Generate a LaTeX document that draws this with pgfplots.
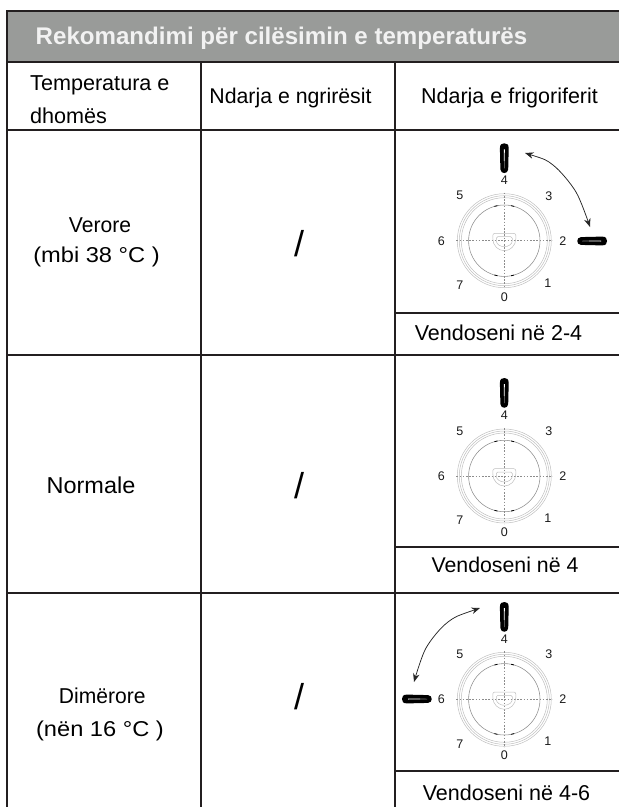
\documentclass[border=0pt]{standalone}
\usepackage{pgfplots}
\usepackage{graphicx}
\usepackage{fontspec}
\pgfplotsset{compat=1.18}
\setmainfont{Liberation Sans}
\usetikzlibrary{arrows.meta}
\definecolor{rule}{HTML}{231F20}
\definecolor{band}{HTML}{999B99}
\definecolor{ring}{HTML}{BEBEBE}
\newcommand{\fs}[1]{\fontsize{#1}{#1}\selectfont}
\newcommand{\knob}[3]{%
 \begin{scope}[shift={(axis cs:#1,#2)},rotate=#3]
  \fill[black] (-4.4pt,-5pt) .. controls (-4.4pt,-1pt) and (-2.5pt,0pt) .. (0pt,0pt) .. controls (2.5pt,0pt) and (4.4pt,-1pt) .. (4.4pt,-5pt) -- (3.9pt,-26pt) .. controls (3.7pt,-31pt) and (-3.7pt,-31pt) .. (-3.9pt,-26pt) -- cycle;
  \fill[white] (-.5pt,-6pt) -- (.5pt,-6pt) -- (.3pt,-18pt) -- (-.3pt,-18pt) -- cycle;
  \fill[black!50] (-.3pt,-18pt) -- (.3pt,-18pt) -- (.25pt,-25pt) -- (-.25pt,-25pt) -- cycle;
 \end{scope}}
\newcommand{\dial}[2]{%
 \begin{scope}[shift={(axis cs:#1,#2)}]
  \draw[ring,line width=.5pt] (0,0) circle[radius=47pt];
  \draw[ring,line width=.5pt] (0,0) circle[radius=45pt];
  \draw[ring,line width=.5pt] (0,0) circle[radius=43pt];
  \draw[black!45,line width=.55pt] (0,0) circle[radius=35.7pt];
  \draw[black,line width=.8pt] (106:35.7pt) arc[start angle=106,end angle=101,radius=35.7pt];
  \draw[black,line width=.8pt] (79:35.7pt) arc[start angle=79,end angle=74,radius=35.7pt];
  \draw[black,line width=.8pt] (254:35.7pt) arc[start angle=254,end angle=259,radius=35.7pt];
  \draw[black,line width=.8pt] (281:35.7pt) arc[start angle=281,end angle=286,radius=35.7pt];
  \draw[black!45,dash pattern=on 1.6pt off 1.6pt,line width=.5pt] (-48pt,0) -- (48pt,0);
  \draw[black!45,dash pattern=on 1.6pt off 1.6pt,line width=.5pt] (0,48pt) -- (0,-48pt);
  \draw[ring,line width=.5pt,rounded corners=2pt] (-11.5pt,2pt) -- (-11.5pt,7.3pt) -- (11.5pt,7.3pt) -- (11.5pt,2pt);
  \draw[ring,line width=.5pt] (11.5pt,2pt) .. controls (11.5pt,-5pt) and (6pt,-10pt) .. (0,-10pt) .. controls (-6pt,-10pt) and (-11.5pt,-5pt) .. (-11.5pt,2pt);
  \draw[ring,line width=.5pt,rounded corners=1.5pt] (-8pt,0pt) -- (-8pt,4pt) -- (8pt,4pt) -- (8pt,0pt);
  \draw[ring,line width=.5pt] (8pt,0pt) .. controls (8pt,-3.5pt) and (4pt,-6pt) .. (0,-6pt) .. controls (-4pt,-6pt) and (-8pt,-3.5pt) .. (-8pt,0pt);
  \node[font=\fs{12.5},text=black!90,inner sep=0pt] at (0,60.5pt) {4};
  \node[font=\fs{12.5},text=black!90,inner sep=0pt] at (-44.5pt,45pt) {5};
  \node[font=\fs{12.5},text=black!90,inner sep=0pt] at (44.5pt,45pt) {3};
  \node[font=\fs{12.5},text=black!90,inner sep=0pt] at (-63pt,0) {6};
  \node[font=\fs{12.5},text=black!90,inner sep=0pt] at (58.5pt,0) {2};
  \node[font=\fs{12.5},text=black!90,inner sep=0pt] at (-44.5pt,-44.5pt) {7};
  \node[font=\fs{12.5},text=black!90,inner sep=0pt] at (43.5pt,-42pt) {1};
  \node[font=\fs{12.5},text=black!90,inner sep=0pt] at (0,-56pt) {0};
 \end{scope}}
\begin{document}
\begin{tikzpicture}
\path[use as bounding box] (0,0) rectangle (619pt,807pt);
\begin{axis}[
  scale only axis, width=619pt, height=807pt,
  xmin=0, xmax=619, ymin=0, ymax=807, y dir=reverse,
  hide axis, clip=false,
]
% header band
\addplot[draw=none,fill=band] coordinates {(7,11) (619,11) (619,61) (7,61)} -- cycle;
% table rules
\addplot[rule,line width=2pt] coordinates {(6,11) (619,11)};
\addplot[rule,line width=2pt] coordinates {(6,61.5) (619,61.5)};
\addplot[rule,line width=2pt] coordinates {(6,130) (619,130)};
\addplot[rule,line width=2pt] coordinates {(6,355) (619,355)};
\addplot[rule,line width=2pt] coordinates {(6,592.5) (619,592.5)};
\addplot[rule,line width=2pt] coordinates {(395,313) (619,313)};
\addplot[rule,line width=2pt] coordinates {(395,546.5) (619,546.5)};
\addplot[rule,line width=2pt] coordinates {(395,771) (619,771)};
\addplot[rule,line width=2pt] coordinates {(7,10) (7,807)};
\addplot[rule,line width=2pt] coordinates {(201,61) (201,807)};
\addplot[rule,line width=2pt] coordinates {(395,61) (395,807)};
% range arrows
\addplot[smooth,black!85,line width=.75pt,{Stealth[length=8.5pt,width=6.5pt]}-{Stealth[length=8.5pt,width=6.5pt]}] coordinates {(525,153) (553,165) (576,192) (590,227)};
\addplot[smooth,black!85,line width=.75pt,{Stealth[length=8.5pt,width=6.5pt]}-{Stealth[length=8.5pt,width=6.5pt]}] coordinates {(480,608) (448,622) (426,648) (414,682)};
\dial{504.3}{240.7}
\dial{504.3}{476}
\dial{504.3}{699.3}
\knob{504.3}{143.3}{0}
\knob{607}{241}{-90}
\knob{504.3}{378}{0}
\knob{504.3}{602}{0}
\knob{402}{699}{90}
% text
\node[font=\fs{24.1}\bfseries,text=white!95!black,inner sep=0pt] at (axis cs:281.5,38.5) {Rekomandimi për cilësimin e temperaturës};
\node[font=\fs{21.6},inner sep=0pt,anchor=west] at (axis cs:30,85) {Temperatura e};
\node[font=\fs{21.6},inner sep=0pt,anchor=west] at (axis cs:30,116) {dhomës};
\node[font=\fs{21.3},inner sep=0pt] at (axis cs:290.5,98) {Ndarja e ngrirësit};
\node[font=\fs{21.5},inner sep=0pt] at (axis cs:509.5,98) {Ndarja e frigoriferit};
\node[font=\fs{21.5},inner sep=0pt] at (axis cs:100,225) {\scalebox{.98}[1]{Verore}};
\node[font=\fs{21.5},inner sep=0pt] at (axis cs:96.5,257) {\scalebox{1.1}[1]{(mbi 38 °C )}};
\node[font=\fs{23},inner sep=0pt] at (axis cs:91,485) {\scalebox{1.02}[1]{Normale}};
\node[font=\fs{21.5},inner sep=0pt] at (axis cs:102.3,696) {\scalebox{.98}[1]{Dimërore}};
\node[font=\fs{21.5},inner sep=0pt] at (axis cs:100,731) {\scalebox{1.1}[1]{(nën 16 °C )}};
\node[font=\fs{36},inner sep=0pt] at (axis cs:299,244) {/};
\node[font=\fs{36},inner sep=0pt] at (axis cs:299,486) {/};
\node[font=\fs{36},inner sep=0pt] at (axis cs:299,697) {/};
\node[font=\fs{21.5},inner sep=0pt] at (axis cs:498.5,333) {Vendoseni në 2-4};
\node[font=\fs{21.3},inner sep=0pt] at (axis cs:505,565) {Vendoseni në 4};
\node[font=\fs{21.5},inner sep=0pt] at (axis cs:506.5,793) {Vendoseni në 4-6};
\end{axis}
\end{tikzpicture}
\end{document}
